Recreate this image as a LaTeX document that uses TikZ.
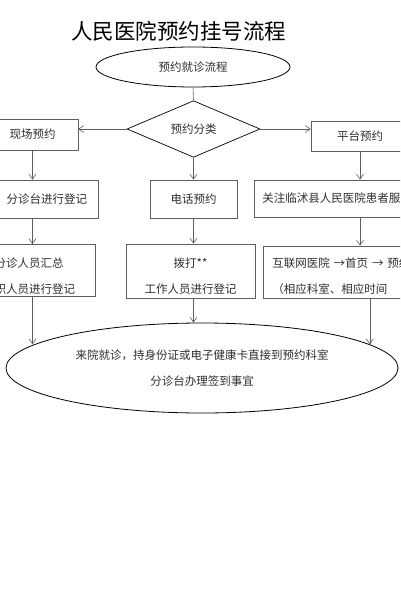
\documentclass[tikz,border=0pt]{standalone}
\usepackage{fontspec}
\setmainfont{Noto Sans CJK SC}
\usetikzlibrary{arrows.meta,shapes.geometric}
\definecolor{rulegray}{HTML}{5E5E5E}
\definecolor{inkgray}{HTML}{2E2E2E}

\begin{document}
\begin{tikzpicture}[x=1pt,y=-1pt,font=\fontsize{11.5}{14}\selectfont,text=inkgray,>={Straight Barb[length=5pt,width=7pt]},
 box/.style={draw=rulegray,line width=0.7pt,inner sep=0pt},
 oval/.style={draw=black,ellipse,line width=0.8pt,inner sep=0pt},
 choice/.style={draw=black,diamond,line width=0.7pt,inner sep=0pt,minimum width=133pt,minimum height=52pt},
 twoline/.style={align=left,font=\fontsize{11.5}{26}\selectfont},
 lowtext/.style={twoline,text height=#1},
 flow/.style={draw=rulegray,line width=0.6pt}]
\useasboundingbox (0,0) rectangle (400,607);
\clip (0,0) rectangle (400,607);
\node[text=black,font=\fontsize{21.5}{24}\selectfont] (title) at (178.5,31) {人民医院预约挂号流程};
\node[oval,minimum width=194pt,minimum height=40pt] (start) at (193,67) {预约就诊流程};
\node[choice] (sort) at (193.5,129) {预约分类};
% left branch: on site
\node[box,minimum width=91pt,minimum height=31pt] (onsite) at (32.5,134.5) {现场预约};
\node[box,anchor=east,align=left,text width=84pt,inner xsep=8pt,minimum height=38pt] (onsite2) at (99,199) {分诊台进行登记};
\node[box,lowtext=21pt,anchor=east,text width=93pt,inner xsep=8pt,minimum height=52pt] (onsite3) at (96,270.5) {分诊人员汇总\\职人员进行登记};
% middle branch: phone
\node[box,minimum width=87pt,minimum height=38pt] (phone) at (193.5,199) {电话预约};
\node[box,lowtext=20pt,align=center,text width=110pt,minimum width=129pt,minimum height=54pt] (phone3) at (190.5,271) {拨打**\\工作人员进行登记};
% right branch: platform
\node[box,minimum width=98pt,minimum height=30pt] (platform) at (360,136.5) {平台预约};
\node[box,anchor=west,align=left,text width=170pt,inner xsep=8pt,minimum height=37pt] (platform2) at (254,198.5) {关注临沭县人民医院患者服};
\node[box,lowtext=18pt,anchor=west,text width=170pt,inner xsep=9pt,minimum height=52pt] (platform3) at (263,272) {互联网医院 →首页 → 预约\\（相应科室、相应时间};
% goal
\node[oval,twoline,align=center,minimum width=392pt,minimum height=90pt] (goal) at (202,368) {来院就诊，持身份证或电子健康卡直接到预约科室\\分诊台办理签到事宜};
\draw[flow] (start.south)--(sort.north);
\draw[flow,->] (sort.west)--(sort.west -| onsite.east);
\draw[flow,->] (sort.east)--(sort.east -| platform.west);
\draw[flow,->] (sort.south)--(phone.north -| sort.south);
\draw[flow,->] (onsite.south)--(onsite2.north -| onsite.south);
\draw[flow,->] (onsite2.south -| onsite.south)--(onsite3.north -| onsite.south);
\draw[flow,->] (onsite3.south -| onsite.south)--(onsite.south |- goal.172.5);
\draw[flow,->] (phone.south)--(phone3.north -| phone.south);
\draw[flow,->] (phone3.south -| phone.south)--(goal.north -| phone.south);
\draw[flow,->] (platform.south)--(platform2.north -| platform.south);
\draw[flow,->] (platform2.south -| platform.south)--(platform3.north -| platform.south);
\draw[flow,->] (platform3.south -| goal.8.5)--(goal.8.5);
\end{tikzpicture}
\end{document}
